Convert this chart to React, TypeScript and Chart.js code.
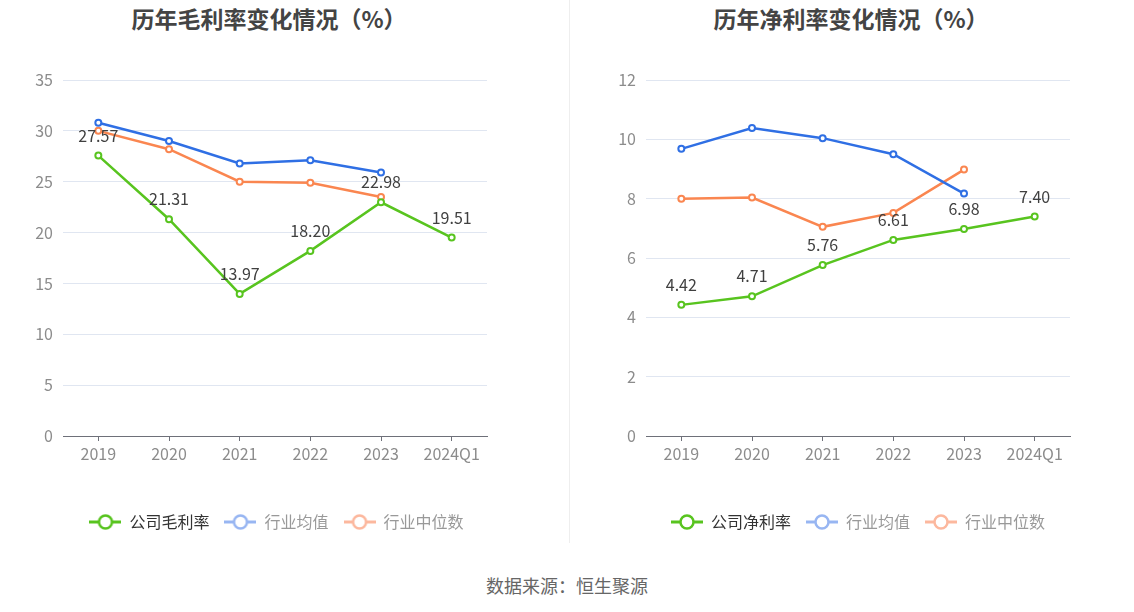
import React, { useEffect, useRef } from "react";
import { Chart, registerables } from "chart.js";

Chart.register(...registerables);

const FONT = "'Noto Sans CJK SC', 'Noto Sans', sans-serif";

const categories = ["2019", "2020", "2021", "2022", "2023", "2024Q1"];

const grossCompany = [27.57, 21.31, 13.97, 18.2, 22.98, 19.51];
const grossIndustryAvg = [30.8, 29.0, 26.8, 27.1, 25.9, null];
const grossIndustryMedian = [30.0, 28.2, 25.0, 24.9, 23.5, null];

const netCompany = [4.42, 4.71, 5.76, 6.61, 6.98, 7.4];
const netIndustryAvg = [9.68, 10.38, 10.04, 9.5, 8.17, null];
const netIndustryMedian = [8.0, 8.04, 7.05, 7.52, 8.98, null];

const grossLegend = ["公司毛利率", "行业均值", "行业中位数"];
const netLegend = ["公司净利率", "行业均值", "行业中位数"];

const GREEN = "#58c41f";
const BLUE = "#2f6fe4";
const ORANGE = "#fa8650";
const BLUE_FADED = "#98b6f2";
const ORANGE_FADED = "#fcb89e";

function legendIcon(color: string): HTMLCanvasElement {
  const c = document.createElement("canvas");
  c.width = 32;
  c.height = 18;
  const ctx = c.getContext("2d")!;
  ctx.strokeStyle = color;
  ctx.lineWidth = 3;
  ctx.beginPath();
  ctx.moveTo(0, 9);
  ctx.lineTo(32, 9);
  ctx.stroke();
  ctx.beginPath();
  ctx.arc(16, 9, 6.5, 0, Math.PI * 2);
  ctx.fillStyle = "#fff";
  ctx.fill();
  ctx.lineWidth = 2.5;
  ctx.stroke();
  return c;
}

const labelPlugin = {
  id: "valueLabels",
  afterDatasetsDraw(chart: any) {
    const ctx = chart.ctx;
    const meta = chart.getDatasetMeta(0);
    const data = chart.data.datasets[0].data;
    ctx.save();
    ctx.font = `16px ${FONT}`;
    ctx.fillStyle = "#404040";
    ctx.textAlign = "center";
    ctx.textBaseline = "middle";
    meta.data.forEach((pt: any, i: number) => {
      const v = data[i];
      if (v == null) return;
      ctx.fillText(Number(v).toFixed(2), pt.x, pt.y - 20);
    });
    ctx.restore();
  },
};

interface ChartProps {
  company: (number | null)[];
  avg: (number | null)[];
  median: (number | null)[];
  legend: string[];
  yMax: number;
  yStep: number;
  padLeft: number;
  padRight: number;
  yWidth: number;
  rightWidth: number;
}

function LineChart(props: ChartProps) {
  const ref = useRef<HTMLCanvasElement>(null);
  useEffect(() => {
    const colors = [GREEN, BLUE, ORANGE];
    const legendColors = [GREEN, BLUE_FADED, ORANGE_FADED];
    const legendText = ["#333", "#999", "#999"];
    const mk = (label: string, data: (number | null)[], color: string) => ({
      label,
      data,
      borderColor: color,
      backgroundColor: "#fff",
      borderWidth: 2.5,
      pointRadius: 3,
      pointBorderWidth: 2,
      pointBackgroundColor: "#fff",
      pointBorderColor: color,
      tension: 0,
      spanGaps: false,
    });
    const chart = new Chart(ref.current!, {
      type: "line",
      data: {
        labels: categories,
        datasets: [
          mk(props.legend[0], props.company, colors[0]),
          mk(props.legend[1], props.avg, colors[1]),
          mk(props.legend[2], props.median, colors[2]),
        ],
      },
      plugins: [labelPlugin],
      options: {
        animation: false,
        responsive: true,
        maintainAspectRatio: false,
        layout: { padding: { top: 80, bottom: 0, left: props.padLeft, right: props.padRight } },
        plugins: {
          title: { display: false },
          tooltip: { enabled: false },
          legend: {
            display: true,
            position: "bottom",
            labels: {
              usePointStyle: true,
              pointStyleWidth: 32,
              padding: 15,
              font: { size: 16, family: FONT },
              generateLabels: () =>
                props.legend.map((t, i) => ({
                  text: t,
                  pointStyle: legendIcon(legendColors[i]),
                  fontColor: legendText[i],
                  fillStyle: "#fff",
                  strokeStyle: legendColors[i],
                  lineWidth: 0,
                  hidden: false,
                  datasetIndex: i,
                })) as any,
            },
          },
        },
        scales: {
          x: {
            type: "category",
            offset: true,
            grid: {
              display: true,
              drawOnChartArea: false,
              drawTicks: true,
              tickLength: 5,
              tickColor: "#6e7079",
              offset: false,
            },
            border: { display: true, color: "#6e7079", width: 1 },
            ticks: {
              color: "#8c8c8c",
              font: { size: 16, family: FONT },
              padding: 3,
              maxRotation: 0,
              autoSkip: false,
            },
            afterFit: (s: any) => {
              s.height = 63;
            },
          },
          y: {
            type: "linear",
            position: "left",
            min: 0,
            max: props.yMax,
            grid: { color: "#e0e6f1", drawTicks: false, lineWidth: 1 },
            border: { display: false },
            ticks: {
              stepSize: props.yStep,
              color: "#8c8c8c",
              font: { size: 16, family: FONT },
              padding: 10,
            },
            afterFit: (s: any) => {
              s.width = props.yWidth;
            },
          },
          yRight: {
            type: "linear",
            position: "right",
            display: true,
            grid: { display: false, drawOnChartArea: false, drawTicks: false },
            border: { display: false },
            ticks: { display: false },
            afterFit: (s: any) => {
              s.width = props.rightWidth;
            },
          },
        },
      } as any,
    });
    return () => chart.destroy();
  }, []);
  return <canvas ref={ref} />;
}

const titleStyle: React.CSSProperties = {
  position: "absolute",
  top: 3,
  transform: "translateX(-50%)",
  whiteSpace: "nowrap",
  fontFamily: FONT,
  fontSize: 23,
  fontWeight: 700,
  color: "#444",
  lineHeight: "30px",
};

export default function App() {
  return (
    <div
      style={{
        position: "absolute",
        left: 0,
        top: 0,
        width: 1134,
        height: 612,
        background: "#fff",
        overflow: "hidden",
        fontFamily: FONT,
      }}
    >
      <div style={{ ...titleStyle, left: 269 }}>历年毛利率变化情况（%）</div>
      <div style={{ ...titleStyle, left: 851 }}>历年净利率变化情况（%）</div>
      <div style={{ position: "absolute", left: 0, top: 0, width: 569, height: 540 }}>
        <LineChart
          company={grossCompany}
          avg={grossIndustryAvg}
          median={grossIndustryMedian}
          legend={grossLegend}
          yMax={35}
          yStep={5}
          padLeft={0}
          padRight={16}
          yWidth={63}
          rightWidth={66}
        />
      </div>
      <div
        style={{
          position: "absolute",
          left: 569,
          top: 0,
          width: 1,
          height: 543,
          background: "#eeeeee",
        }}
      />
      <div style={{ position: "absolute", left: 570, top: 0, width: 564, height: 540 }}>
        <LineChart
          company={netCompany}
          avg={netIndustryAvg}
          median={netIndustryMedian}
          legend={netLegend}
          yMax={12}
          yStep={2}
          padLeft={12}
          padRight={0}
          yWidth={64}
          rightWidth={64}
        />
      </div>
      <div
        style={{
          position: "absolute",
          left: 567,
          top: 572,
          transform: "translateX(-50%)",
          whiteSpace: "nowrap",
          fontSize: 18,
          color: "#666",
          lineHeight: "26px",
        }}
      >
        数据来源：恒生聚源
      </div>
    </div>
  );
}
